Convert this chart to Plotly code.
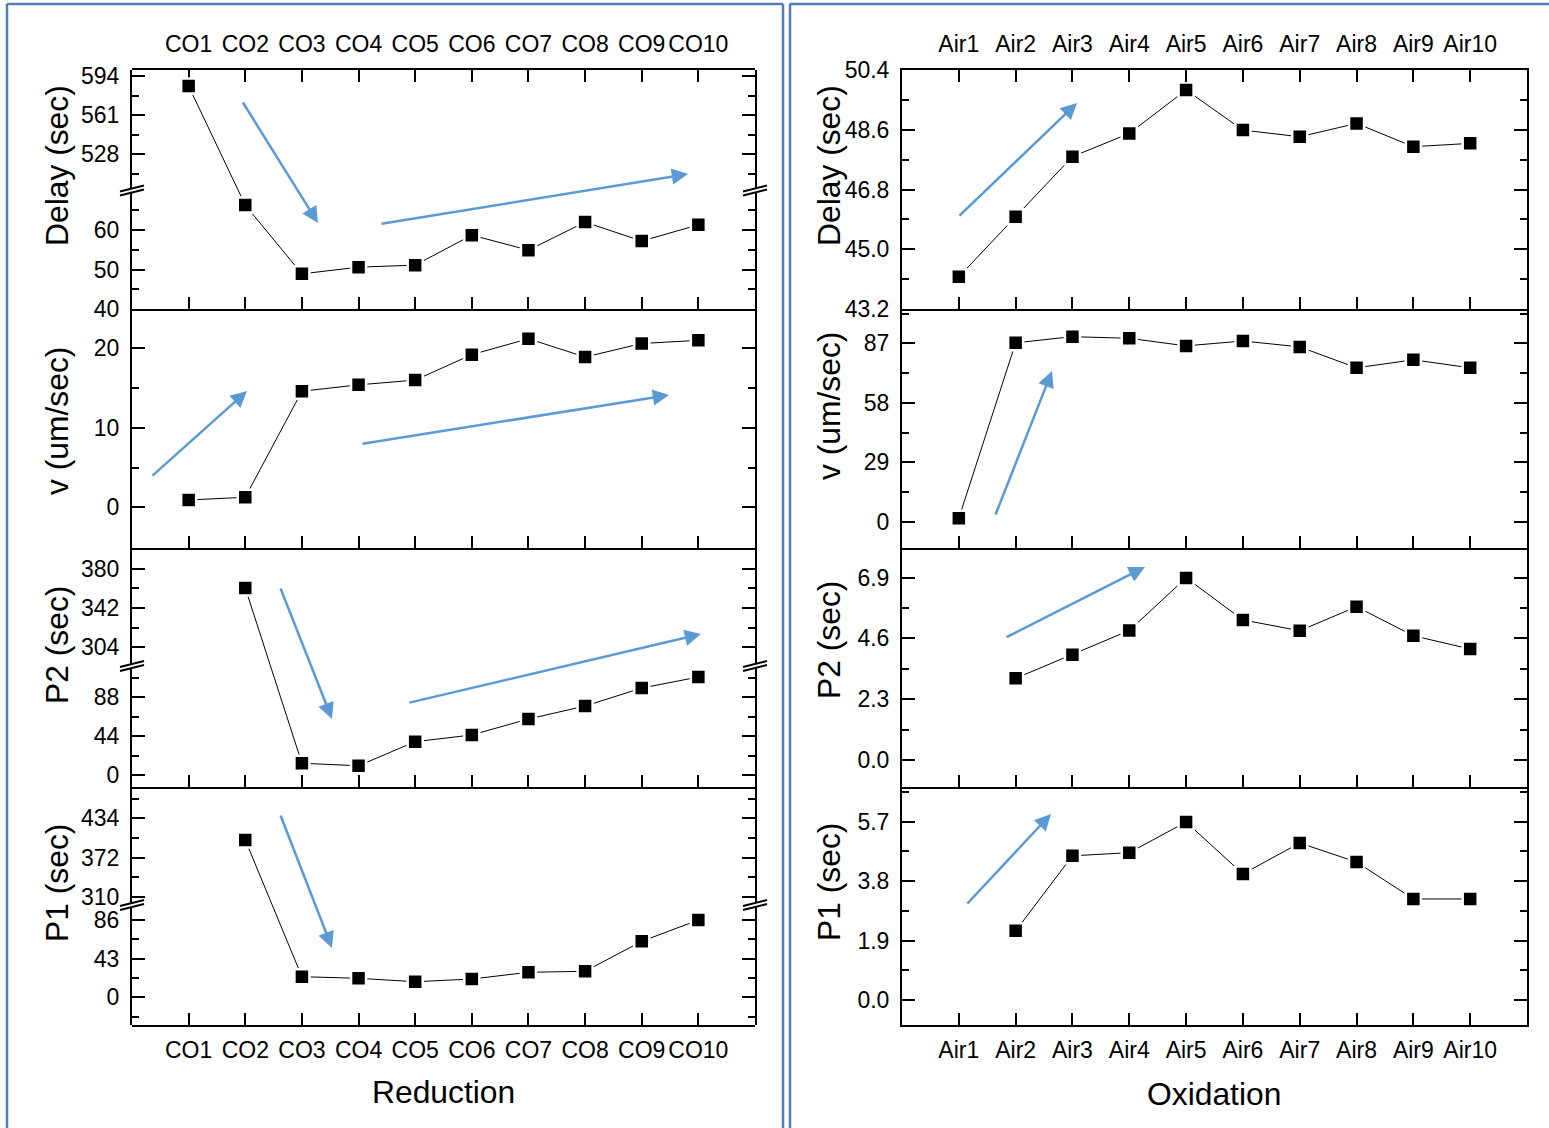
import plotly.graph_objects as go

W, H = 1549, 1128

# ---------------- data ----------------
reduction_labels = ["CO1", "CO2", "CO3", "CO4", "CO5", "CO6", "CO7", "CO8", "CO9", "CO10"]
oxidation_labels = ["Air1", "Air2", "Air3", "Air4", "Air5", "Air6", "Air7", "Air8", "Air9", "Air10"]

red_delay = [585.5, 66.3, 48.9, 50.6, 51.1, 58.7, 54.9, 62.0, 57.2, 61.3]
red_v = [0.92, 1.26, 14.6, 15.4, 16.0, 19.2, 21.2, 18.9, 20.6, 21.0]
red_p2 = [None, 361.3, 13.3, 10.5, 37.8, 45.4, 63.5, 78.2, 98.6, 111.1]
red_p1 = [None, 399.7, 22.9, 21.1, 17.3, 20.3, 27.8, 28.9, 62.2, 85.9]

ox_delay = [44.17, 45.98, 47.79, 48.49, 49.80, 48.59, 48.39, 48.79, 48.09, 48.19]
ox_v = [1.66, 87.3, 90.3, 89.5, 85.8, 88.2, 85.3, 75.1, 79.0, 75.1]
ox_p2 = [None, 3.09, 3.98, 4.90, 6.89, 5.30, 4.89, 5.80, 4.70, 4.20]
ox_p1 = [None, 2.21, 4.61, 4.71, 5.69, 4.03, 5.02, 4.41, 3.23, 3.23]

# tick values (major / minor)
red_delay_ticks_lo = [40, 50, 60]
red_delay_minor_lo = [45, 55, 65]
red_delay_ticks_hi = [528, 561, 594]
red_delay_minor_hi = [511.5, 544.5, 577.5]
red_v_ticks = [0, 10, 20]
red_v_minor = [-5, 5, 15]
red_p2_ticks_lo = [0, 44, 88]
red_p2_minor_lo = [22, 66, 110]
red_p2_ticks_hi = [304, 342, 380]
red_p2_minor_hi = [323, 361, 399]
red_p1_ticks_lo = [0, 43, 86]
red_p1_minor_lo = [-21.5, 21.5, 64.5]
red_p1_ticks_hi = [310, 372, 434]
red_p1_minor_hi = [341, 403, 465]

ox_delay_ticks = [43.2, 45.0, 46.8, 48.6, 50.4]
ox_delay_minor = [44.1, 45.9, 47.7, 49.5]
ox_v_ticks = [0, 29, 58, 87]
ox_v_minor = [14.5, 43.5, 72.5, 101.5]
ox_p2_ticks = [0.0, 2.3, 4.6, 6.9]
ox_p2_minor = [1.15, 3.45, 5.75]
ox_p1_ticks = [0.0, 1.9, 3.8, 5.7]
ox_p1_minor = [0.95, 2.85, 4.75, 6.65]

# ---------------- layout constants ----------------
FONT = "Liberation Sans, Arial, Helvetica, sans-serif"
TICK_FONT = dict(family=FONT, size=23, color="black")
TITLE_FONT = dict(family=FONT, size=31.8, color="black")
COL_X = [(132, 755), (902, 1527)]
PANEL_PX = [(70, 309), (309, 548), (548, 787), (787, 1025)]
ARROW_COLOR = "#5b9bd5"
FRAME_COLOR = "#4f7fb8"


def seg(rng, ticks, minor, fmt, top, bot):
    return dict(range=rng, ticks=ticks, minor=minor, fmt=fmt, top=top, bot=bot)


columns = [
    dict(labels=reduction_labels, xtitle="Reduction", xtitle_pos=(443, 1092),
         title_x=57, title_y=[166, 421, 645, 883],
         panels=[
             dict(title="Delay (sec)", values=red_delay,
                  segs=[seg([40, 70], red_delay_ticks_lo, red_delay_minor_lo, "{:.0f}", 190.5, 309),
                        seg([497.3, 599.1], red_delay_ticks_hi, red_delay_minor_hi, "{:.0f}", 70, 190.5)]),
             dict(title="v (um/sec)", values=red_v,
                  segs=[seg([-5.12, 24.94], red_v_ticks, red_v_minor, "{:.0f}", 309, 548)]),
             dict(title="P2 (sec)", values=red_p2,
                  segs=[seg([-13.6, 123.6], red_p2_ticks_lo, red_p2_minor_lo, "{:.0f}", 666, 787),
                        seg([286.0, 399.8], red_p2_ticks_hi, red_p2_minor_hi, "{:.0f}", 548, 666)]),
             dict(title="P1 (sec)", values=red_p1,
                  segs=[seg([-30.8, 102.6], red_p1_ticks_lo, red_p1_minor_lo, "{:.0f}", 905, 1025),
                        seg([296.9, 483.5], red_p1_ticks_hi, red_p1_minor_hi, "{:.0f}", 787, 905)]),
         ]),
    dict(labels=oxidation_labels, xtitle="Oxidation", xtitle_pos=(1214, 1094),
         title_x=829, title_y=[166, 406, 640, 882],
         panels=[
             dict(title="Delay (sec)", values=ox_delay,
                  segs=[seg([43.199, 50.401], ox_delay_ticks, ox_delay_minor, "{:.1f}", 70, 309)]),
             dict(title="v (um/sec)", values=ox_v,
                  segs=[seg([-12.84, 103.8], ox_v_ticks, ox_v_minor, "{:.0f}", 309, 548)]),
             dict(title="P2 (sec)", values=ox_p2,
                  segs=[seg([-1.02, 8.02], ox_p2_ticks, ox_p2_minor, "{:.1f}", 548, 787)]),
             dict(title="P1 (sec)", values=ox_p1,
                  segs=[seg([-0.80, 6.81], ox_p1_ticks, ox_p1_minor, "{:.1f}", 787, 1025)]),
         ]),
]

# decorative trend arrows: (tail_px, head_px)
arrows = [
    ((242, 101), (318, 223)), ((380, 224), (688, 174)),
    ((151, 477), (247, 391)), ((361, 444), (669, 395)),
    ((280, 587), (332, 719)), ((408, 703), (701, 634)),
    ((280, 814), (332, 948)),
    ((958, 217), (1077, 103)),
    ((995, 516), (1052, 371)),
    ((1005, 638), (1145, 567)),
    ((966, 905), (1051, 814)),
]


def px_x(px):
    return px / W


def px_y(py):
    return 1 - py / H


def seg_dom(s):
    return px_y(s["bot"]), px_y(s["top"])


def value_to_paper(v, segs):
    s = segs[-1]
    for cand in segs:
        if v <= cand["range"][1]:
            s = cand
            break
    d0, d1 = seg_dom(s)
    r0, r1 = s["range"]
    return d0 + (v - r0) / (r1 - r0) * (d1 - d0)


def paper_to_value(f, s):
    d0, d1 = seg_dom(s)
    r0, r1 = s["range"]
    return r0 + (f - d0) / (d1 - d0) * (r1 - r0)


fig = go.Figure()
layout = {}
shapes = []
annotations = []
n_x = 0
n_y = 0


def suffix(n):
    return "" if n == 1 else str(n)


for ci, col in enumerate(columns):
    x0px, x1px = COL_X[ci]
    xdom = [px_x(x0px), px_x(x1px)]
    for pi, panel in enumerate(col["panels"]):
        top, bot = PANEL_PX[pi]
        n_x += 1
        xid = "x" + suffix(n_x)
        segs = panel["segs"]
        seg_ids = []
        frame_id = None
        if len(segs) > 1:
            n_y += 1
            frame_id = "y" + suffix(n_y)
            layout["yaxis" + suffix(n_y)] = dict(
                domain=[px_y(bot), px_y(top)], range=[0, 1], anchor=xid,
                showline=False, ticks="", showticklabels=False,
                showgrid=False, zeroline=False, automargin=False)
            # empty trace so the full-panel frame axis is registered
            fig.add_trace(go.Scatter(x=[], y=[], xaxis=xid, yaxis=frame_id,
                                     showlegend=False, hoverinfo="skip"))
        for s in segs:
            n_y += 1
            yid = "y" + suffix(n_y)
            seg_ids.append(yid)
            d0, d1 = seg_dom(s)
            layout["yaxis" + suffix(n_y)] = dict(
                domain=[d0, d1], range=s["range"], anchor=xid,
                tickmode="array", tickvals=s["ticks"],
                ticktext=[s["fmt"].format(t) for t in s["ticks"]],
                ticks="inside", ticklen=13, tickwidth=2, tickcolor="black",
                minor=dict(tickmode="array", tickvals=s["minor"], ticks="inside",
                           ticklen=7, tickwidth=2, tickcolor="black", showgrid=False),
                showline=True, linewidth=2, linecolor="black", mirror="ticks",
                showgrid=False, zeroline=False, tickfont=TICK_FONT,
                ticklabelstandoff=6, automargin=False)
        if frame_id is None:
            frame_id = seg_ids[0]
        layout["xaxis" + suffix(n_x)] = dict(
            domain=xdom, anchor=frame_id, type="category",
            categoryorder="array", categoryarray=col["labels"], range=[-1, 10],
            side="top" if pi == 0 else "bottom",
            mirror="ticks" if pi == 0 else False,
            ticks="inside", ticklen=12, tickwidth=2, tickcolor="black",
            showline=True, linewidth=2, linecolor="black",
            showticklabels=pi in (0, 3), tickfont=TICK_FONT,
            showgrid=False, zeroline=False, automargin=False,
            ticklabelstandoff=7 if pi == 0 else 3)

        # data traces: one per axis segment; values of other segments are
        # re-expressed in this segment's units so the polyline stays straight
        for s, yid in zip(segs, seg_ids):
            if len(segs) == 1:
                yvals = panel["values"]
            else:
                yvals = [None if v is None else paper_to_value(value_to_paper(v, segs), s)
                         for v in panel["values"]]
            fig.add_trace(go.Scatter(
                x=col["labels"], y=yvals, xaxis=xid, yaxis=yid,
                mode="lines+markers", cliponaxis=True, showlegend=False,
                line=dict(color="black", width=1),
                marker=dict(symbol="square", size=15, color="black",
                            line=dict(color="white", width=2.5)),
                hoverinfo="skip"))

        # axis break marks
        if len(segs) > 1:
            yb = segs[0]["top"]
            for xb in (x0px, x1px):
                poly = "M {} {} L {} {} L {} {} L {} {} Z".format(
                    px_x(xb - 11), px_y(yb + 1), px_x(xb + 11), px_y(yb - 5),
                    px_x(xb + 11), px_y(yb - 1), px_x(xb - 11), px_y(yb + 5))
                shapes.append(dict(type="path", xref="paper", yref="paper", path=poly,
                                   fillcolor="white", line=dict(width=0), layer="above"))
                for off in (-2, 2):
                    shapes.append(dict(type="line", xref="paper", yref="paper",
                                       x0=px_x(xb - 12), y0=px_y(yb + 3 + off),
                                       x1=px_x(xb + 12), y1=px_y(yb - 3 + off),
                                       line=dict(color="black", width=2), layer="above"))

        # y title
        annotations.append(dict(text=panel["title"], xref="paper", yref="paper",
                                x=px_x(col["title_x"]), y=px_y(col["title_y"][pi]),
                                textangle=-90, showarrow=False, font=TITLE_FONT,
                                xanchor="center", yanchor="middle"))

    tx, ty = col["xtitle_pos"]
    annotations.append(dict(text=col["xtitle"], xref="paper", yref="paper",
                            x=px_x(tx), y=px_y(ty), showarrow=False, font=TITLE_FONT,
                            xanchor="center", yanchor="middle"))

for (tx, ty), (hx, hy) in arrows:
    annotations.append(dict(text="", xref="paper", yref="paper", x=px_x(hx), y=px_y(hy),
                            axref="pixel", ayref="pixel", ax=tx - hx, ay=ty - hy,
                            showarrow=True, arrowhead=2, arrowsize=1.3, arrowwidth=2.5,
                            arrowcolor=ARROW_COLOR, standoff=0, startstandoff=0))

# outer blue frames
for (xa, ya, xb_, yb_) in [(7, 4, 783, 4), (7, 4, 7, 1128), (783, 4, 783, 1128),
                           (790, 4, 1549, 4), (790, 4, 790, 1128)]:
    shapes.append(dict(type="line", xref="paper", yref="paper",
                       x0=px_x(xa), y0=px_y(ya), x1=px_x(xb_), y1=px_y(yb_),
                       line=dict(color=FRAME_COLOR, width=2.5)))

fig.update_layout(
    width=W, height=H, autosize=False,
    margin=dict(l=0, r=0, t=0, b=0, pad=0, autoexpand=False),
    paper_bgcolor="white", plot_bgcolor="rgba(0,0,0,0)",
    font=dict(family=FONT, color="black"),
    shapes=shapes, annotations=annotations, showlegend=False,
    **layout)

fig.write_html("out.html", post_script="document.body.style.margin='0';")
